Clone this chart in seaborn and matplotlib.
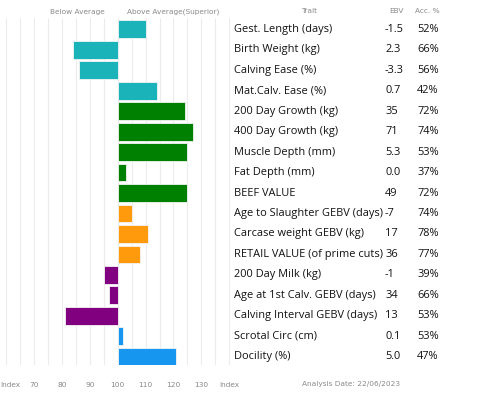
import numpy as np
import pandas as pd
import matplotlib
matplotlib.use("Agg")
import matplotlib.pyplot as plt
import matplotlib.transforms as mtransforms
import seaborn as sns

traits = ["Gest. Length (days)", "Birth Weight (kg)", "Calving Ease (%)", "Mat.Calv. Ease (%)",
          "200 Day Growth (kg)", "400 Day Growth (kg)", "Muscle Depth (mm)", "Fat Depth (mm)",
          "BEEF VALUE", "Age to Slaughter GEBV (days)", "Carcase weight GEBV (kg)",
          "RETAIL VALUE (of prime cuts)", "200 Day Milk (kg)", "Age at 1st Calv. GEBV (days)",
          "Calving Interval GEBV (days)", "Scrotal Circ (cm)", "Docility (%)"]
index_vals = [110, 84, 86, 114, 124, 127, 125, 103, 125, 105, 111, 108, 95, 97, 81, 102, 121]
ebv = ["-1.5", "2.3", "-3.3", "0.7", "35", "71", "5.3", "0.0", "49", "-7", "17", "36",
       "-1", "34", "13", "0.1", "5.0"]
acc = ["52%", "66%", "56%", "42%", "72%", "74%", "53%", "37%", "72%", "74%", "78%", "77%",
       "39%", "66%", "53%", "53%", "47%"]
group = ["calving"] * 4 + ["growth"] * 5 + ["carcase"] * 3 + ["fertility"] * 3 + ["other"] * 2

palette = {"calving": "#19b3b9", "growth": "#008000", "carcase": "#ff9a0c",
           "fertility": "#800080", "other": "#1796ef"}

df = pd.DataFrame({"trait": traits, "index": index_vals, "group": group})
df["dev"] = df["index"] - 100

sns.set_style("white")
plt.rcParams["font.family"] = ["Open Sans", "DejaVu Sans"]

fig = plt.figure(figsize=(4.82, 3.97), dpi=100)
ax = fig.add_axes([0, 32 / 397, 232 / 482, 347 / 397])

sns.barplot(data=df, x="dev", y="trait", hue="group", palette=palette, dodge=False,
            orient="h", width=0.87, saturation=1, edgecolor="#f4f4f4", linewidth=0.6,
            legend=False, ax=ax, zorder=3)

ax.set_xlim(-42.25, 41)
ax.set_ylim(len(traits) - 0.6, -0.55)
ax.set_xticks(np.arange(-40, 41, 5), minor=True)
ax.set_xticks(np.arange(-40, 41, 10))
labels = [str(t + 100) for t in np.arange(-40, 41, 10)]
labels[0] = "Index"
labels[-1] = "Index"
ax.set_xticklabels(labels, fontsize=5.3, color="#888888", family="DejaVu Sans")
ax.tick_params(axis="x", which="both", length=0, pad=12)
first = ax.get_xticklabels()[0]
first.set_horizontalalignment("left")
first.set_transform(first.get_transform() + mtransforms.ScaledTranslation(-6 / 100, 0, fig.dpi_scale_trans))
ax.set_yticks([])
ax.grid(axis="x", which="both", color="#ececec", linewidth=0.8, zorder=0)
ax.set_xlabel("")
ax.set_ylabel("")
for s in ax.spines.values():
    s.set_visible(False)

# header
hdr = dict(fontsize=5.3, color="#8a8a8a", ha="center", va="center", family="DejaVu Sans")
fig.text(77 / 482, 1 - 12 / 397, "Below Average", **hdr)
fig.text(173 / 482, 1 - 12 / 397, "Above Average(Superior)", **hdr)
fig.text(309 / 482, 1 - 11 / 397, "Trait", **hdr)
fig.text(396 / 482, 1 - 11 / 397, "EBV", **hdr)
fig.text(427 / 482, 1 - 11 / 397, "Acc. %", **hdr)
fig.text(351 / 482, 1 - 384 / 397, "Analysis Date: 22/06/2023", **hdr)

# table of traits
trans = mtransforms.blended_transform_factory(fig.transFigure, ax.transData)
fig.canvas.draw()
renderer = fig.canvas.get_renderer()
row = dict(fontsize=7.9, color="#111111", va="center", ha="left", transform=trans)
for i, t in enumerate(traits):
    txt = fig.text(234 / 482, i, t, **row)
    end = txt.get_window_extent(renderer).x1
    x_ebv = max(385, end + 2)
    fig.text(x_ebv / 482, i, ebv[i], **row)
    fig.text(417 / 482, i, acc[i], **row)

fig.savefig("out.png", dpi=100)
